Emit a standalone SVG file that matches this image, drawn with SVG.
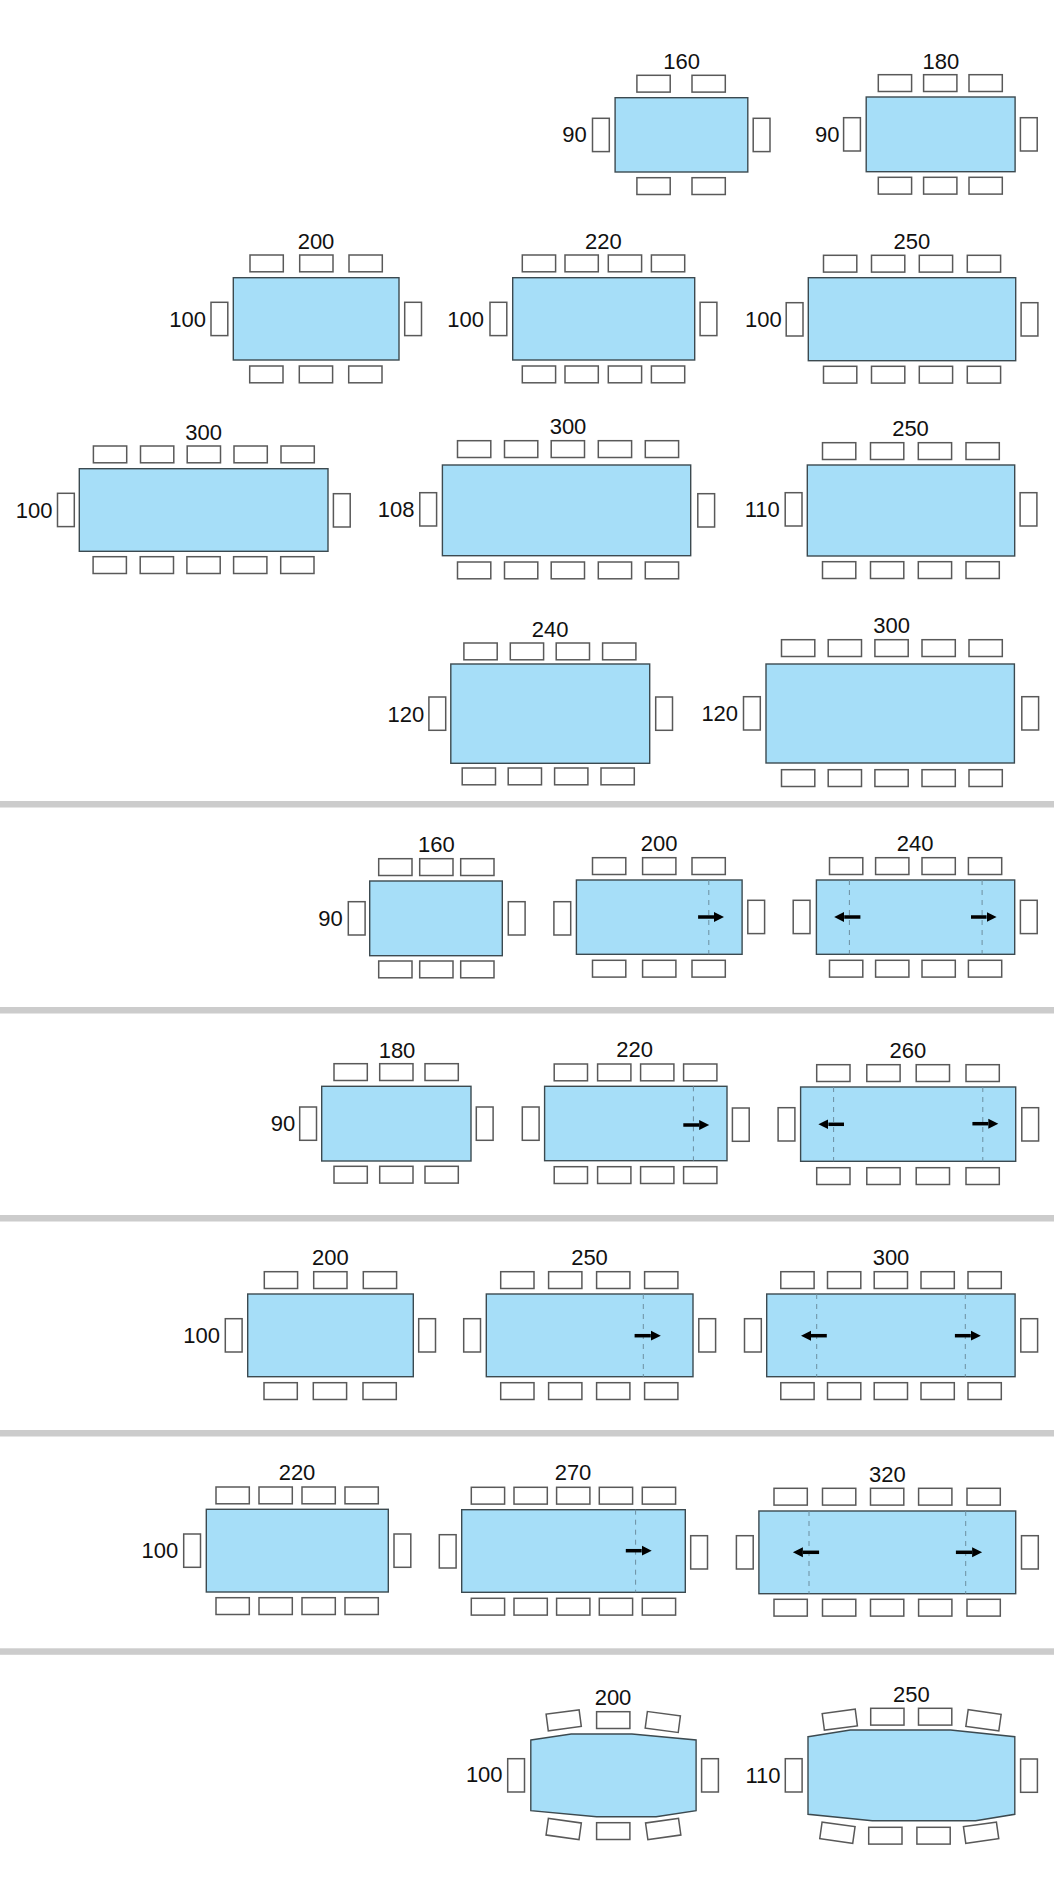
<svg xmlns="http://www.w3.org/2000/svg" width="1054" height="1890" viewBox="0 0 1054 1890">
<style>
.t{fill:#a6def8;stroke:#3c4a50;stroke-width:1.4}
.c{fill:#fff;stroke:#595959;stroke-width:1.5}
.sep{fill:#cccccc}
text{font-family:"Liberation Sans",Arial,sans-serif;font-size:22px;fill:#111}
.m{text-anchor:middle}
.e{text-anchor:end}
.d{stroke:#6d8fa0;stroke-width:1;stroke-dasharray:5 5;fill:none}
.a{stroke:#000;stroke-width:3.5;fill:none;marker-end:url(#head)}
</style>
<defs>
<rect id="h" class="c" width="33.3" height="16.8"/>
<rect id="v" class="c" width="16.8" height="33.3"/>
<marker id="head" markerUnits="userSpaceOnUse" markerWidth="11" markerHeight="11" refX="0" refY="5.5" orient="auto"><path d="M0 0.5L10 5.5L0 10.5Z" fill="#000"/></marker>
</defs>
<rect width="1054" height="1890" fill="#fff"/>
<g id="separators">
<rect class="sep" y="801" width="1054" height="6.5"/>
<rect class="sep" y="1007" width="1054" height="6.5"/>
<rect class="sep" y="1215" width="1054" height="6.5"/>
<rect class="sep" y="1430" width="1054" height="6.5"/>
<rect class="sep" y="1648.3" width="1054" height="6.5"/>
</g>
<g id="table-160-90">
<rect class="t" x="615.1" y="97.7" width="132.7" height="74.3"/>
<use href="#h" x="636.9" y="75.3"/><use href="#h" x="692" y="75.3"/>
<use href="#h" x="636.9" y="177.7"/><use href="#h" x="692" y="177.7"/>
<use href="#v" x="592.5" y="118.3"/><use href="#v" x="753.2" y="118.3"/>
<text class="m" x="681.6" y="68.7">160</text><text class="e" x="586.8" y="141.7">90</text>
</g>
<g id="table-180-90">
<rect class="t" x="866.2" y="97" width="148.9" height="74.7"/>
<use href="#h" x="878.3" y="74.7"/><use href="#h" x="923.6" y="74.7"/><use href="#h" x="969" y="74.7"/>
<use href="#h" x="878.3" y="177.3"/><use href="#h" x="923.6" y="177.3"/><use href="#h" x="969" y="177.3"/>
<use href="#v" x="843.6" y="117.7"/><use href="#v" x="1020.4" y="117.7"/>
<text class="m" x="940.8" y="68.7">180</text><text class="e" x="839.6" y="142.3">90</text>
</g>
<g id="table-200-100">
<rect class="t" x="233.3" y="277.7" width="165.7" height="82.3"/>
<use href="#h" x="250" y="255"/><use href="#h" x="299.7" y="255"/><use href="#h" x="349" y="255"/>
<use href="#h" x="249.7" y="366"/><use href="#h" x="299.3" y="366"/><use href="#h" x="348.7" y="366"/>
<use href="#v" x="211" y="302.3"/><use href="#v" x="404.7" y="302.3"/>
<text class="m" x="316" y="249.3">200</text><text class="e" x="206" y="326.7">100</text>
</g>
<g id="table-220-100">
<rect class="t" x="512.7" y="277.7" width="182" height="82.3"/>
<use href="#h" x="522.3" y="255"/><use href="#h" x="565" y="255"/><use href="#h" x="608.3" y="255"/><use href="#h" x="651.4" y="255"/>
<use href="#h" x="522.3" y="366"/><use href="#h" x="565" y="366"/><use href="#h" x="608.3" y="366"/><use href="#h" x="651.4" y="366"/>
<use href="#v" x="490" y="302.3"/><use href="#v" x="700.1" y="302.3"/>
<text class="m" x="603.3" y="249">220</text><text class="e" x="484" y="326.7">100</text>
</g>
<g id="table-250-100">
<rect class="t" x="808.3" y="277.7" width="207.4" height="83"/>
<use href="#h" x="823.5" y="255.3"/><use href="#h" x="871.5" y="255.3"/><use href="#h" x="919.3" y="255.3"/><use href="#h" x="967.3" y="255.3"/>
<use href="#h" x="823.5" y="366.3"/><use href="#h" x="871.5" y="366.3"/><use href="#h" x="919.3" y="366.3"/><use href="#h" x="967.3" y="366.3"/>
<use href="#v" x="786.2" y="302.7"/><use href="#v" x="1021.1" y="302.7"/>
<text class="m" x="911.9" y="249">250</text><text class="e" x="781.8" y="326.7">100</text>
</g>
<g id="table-300-100">
<rect class="t" x="79.3" y="468.7" width="248.7" height="82.6"/>
<use href="#h" x="93.4" y="446"/><use href="#h" x="140.5" y="446"/><use href="#h" x="187.2" y="446"/><use href="#h" x="234" y="446"/><use href="#h" x="281" y="446"/>
<use href="#h" x="93.1" y="556.7"/><use href="#h" x="140.2" y="556.7"/><use href="#h" x="186.9" y="556.7"/><use href="#h" x="233.6" y="556.7"/><use href="#h" x="280.7" y="556.7"/>
<use href="#v" x="57.5" y="493.3"/><use href="#v" x="333.4" y="493.7"/>
<text class="m" x="203.7" y="440">300</text><text class="e" x="52.4" y="517.7">100</text>
</g>
<g id="table-300-108">
<rect class="t" x="442.4" y="465" width="248.3" height="90.7"/>
<use href="#h" x="457.5" y="440.7"/><use href="#h" x="504.5" y="440.7"/><use href="#h" x="551.2" y="440.7"/><use href="#h" x="598.3" y="440.7"/><use href="#h" x="645.3" y="440.7"/>
<use href="#h" x="457.5" y="562"/><use href="#h" x="504.5" y="562"/><use href="#h" x="551.2" y="562"/><use href="#h" x="598.3" y="562"/><use href="#h" x="645.3" y="562"/>
<use href="#v" x="419.8" y="492.7"/><use href="#v" x="697.8" y="493.7"/>
<text class="m" x="568" y="434">300</text><text class="e" x="414.5" y="516.7">108</text>
</g>
<g id="table-250-110">
<rect class="t" x="807.3" y="465" width="207.4" height="91"/>
<use href="#h" x="822.5" y="442.7"/><use href="#h" x="870.5" y="442.7"/><use href="#h" x="918.3" y="442.7"/><use href="#h" x="966" y="442.7"/>
<use href="#h" x="822.5" y="561.7"/><use href="#h" x="870.5" y="561.7"/><use href="#h" x="918.3" y="561.7"/><use href="#h" x="966" y="561.7"/>
<use href="#v" x="785.2" y="492.7"/><use href="#v" x="1020.1" y="492.7"/>
<text class="m" x="910.5" y="436">250</text><text class="e" x="779.8" y="516.7">110</text>
</g>
<g id="table-240-120">
<rect class="t" x="450.8" y="664" width="198.9" height="99.3"/>
<use href="#h" x="463.9" y="643"/><use href="#h" x="510.3" y="643"/><use href="#h" x="556.2" y="643"/><use href="#h" x="602.6" y="643"/>
<use href="#h" x="462.2" y="768"/><use href="#h" x="508.2" y="768"/><use href="#h" x="554.6" y="768"/><use href="#h" x="601" y="768"/>
<use href="#v" x="428.9" y="697"/><use href="#v" x="655.7" y="697"/>
<text class="m" x="550.2" y="636.7">240</text><text class="e" x="424.2" y="721.7">120</text>
</g>
<g id="table-300-120">
<rect class="t" x="766" y="664" width="248.4" height="99"/>
<use href="#h" x="781.5" y="639.7"/><use href="#h" x="828.2" y="639.7"/><use href="#h" x="874.9" y="639.7"/><use href="#h" x="922" y="639.7"/><use href="#h" x="969" y="639.7"/>
<use href="#h" x="781.5" y="769.7"/><use href="#h" x="828.2" y="769.7"/><use href="#h" x="874.9" y="769.7"/><use href="#h" x="922" y="769.7"/><use href="#h" x="969" y="769.7"/>
<use href="#v" x="743.5" y="696.7"/><use href="#v" x="1021.8" y="696.7"/>
<text class="m" x="891.7" y="632.7">300</text><text class="e" x="738.1" y="721">120</text>
</g>
<g id="table-160-90-ext0">
<rect class="t" x="369.7" y="881" width="132.6" height="74.7"/>
<use href="#h" x="378.7" y="858.7"/><use href="#h" x="419.7" y="858.7"/><use href="#h" x="460.7" y="858.7"/>
<use href="#h" x="378.7" y="961"/><use href="#h" x="419.7" y="961"/><use href="#h" x="460.7" y="961"/>
<use href="#v" x="348.3" y="901.7"/><use href="#v" x="508.3" y="901.7"/>
<text class="m" x="436.3" y="852.3">160</text><text class="e" x="342.7" y="926">90</text>
</g>
<g id="table-160-90-ext1">
<rect class="t" x="576.4" y="880" width="165.7" height="74.3"/>
<use href="#h" x="592.5" y="857.7"/><use href="#h" x="642.6" y="857.7"/><use href="#h" x="692" y="857.7"/>
<use href="#h" x="592.5" y="960.3"/><use href="#h" x="642.6" y="960.3"/><use href="#h" x="692" y="960.3"/>
<use href="#v" x="553.9" y="901.7"/><use href="#v" x="747.8" y="900.3"/>
<text class="m" x="659.1" y="851">200</text>
</g>
<g id="table-160-90-ext2">
<rect class="t" x="816.4" y="880" width="198.3" height="74.3"/>
<use href="#h" x="829.5" y="857.7"/><use href="#h" x="875.6" y="857.7"/><use href="#h" x="922" y="857.7"/><use href="#h" x="968.4" y="857.7"/>
<use href="#h" x="829.5" y="960.3"/><use href="#h" x="875.6" y="960.3"/><use href="#h" x="922" y="960.3"/><use href="#h" x="968.4" y="960.3"/>
<use href="#v" x="793.2" y="900.3"/><use href="#v" x="1020.4" y="900.3"/>
<text class="m" x="915.2" y="851">240</text>
</g>
<g id="table-180-90-ext0">
<rect class="t" x="321.7" y="1086.3" width="149.3" height="74.7"/>
<use href="#h" x="334" y="1063.7"/><use href="#h" x="379.7" y="1063.7"/><use href="#h" x="425" y="1063.7"/>
<use href="#h" x="334" y="1166.3"/><use href="#h" x="379.7" y="1166.3"/><use href="#h" x="425" y="1166.3"/>
<use href="#v" x="299.7" y="1107"/><use href="#v" x="476.3" y="1107"/>
<text class="m" x="397" y="1058">180</text><text class="e" x="295.3" y="1131.3">90</text>
</g>
<g id="table-180-90-ext1">
<rect class="t" x="544.6" y="1086.3" width="182.4" height="74.4"/>
<use href="#h" x="554.2" y="1064"/><use href="#h" x="597.6" y="1064"/><use href="#h" x="640.6" y="1064"/><use href="#h" x="683.6" y="1064"/>
<use href="#h" x="554.2" y="1166.7"/><use href="#h" x="597.6" y="1166.7"/><use href="#h" x="640.6" y="1166.7"/><use href="#h" x="683.6" y="1166.7"/>
<use href="#v" x="522.3" y="1107"/><use href="#v" x="732.4" y="1108"/>
<text class="m" x="634.6" y="1056.7">220</text>
</g>
<g id="table-180-90-ext2">
<rect class="t" x="800.6" y="1087" width="215.1" height="74.3"/>
<use href="#h" x="816.7" y="1064.7"/><use href="#h" x="866.8" y="1064.7"/><use href="#h" x="916.2" y="1064.7"/><use href="#h" x="966" y="1064.7"/>
<use href="#h" x="816.7" y="1167.7"/><use href="#h" x="866.8" y="1167.7"/><use href="#h" x="916.2" y="1167.7"/><use href="#h" x="966" y="1167.7"/>
<use href="#v" x="778.1" y="1107.7"/><use href="#v" x="1021.8" y="1107.7"/>
<text class="m" x="907.8" y="1057.7">260</text>
</g>
<g id="table-200-100-ext0">
<rect class="t" x="247.7" y="1294" width="165.6" height="82.7"/>
<use href="#h" x="264.3" y="1271.7"/><use href="#h" x="313.7" y="1271.7"/><use href="#h" x="363.3" y="1271.7"/>
<use href="#h" x="264" y="1382.7"/><use href="#h" x="313.3" y="1382.7"/><use href="#h" x="363" y="1382.7"/>
<use href="#v" x="225.3" y="1318.7"/><use href="#v" x="418.7" y="1318.7"/>
<text class="m" x="330.3" y="1265">200</text><text class="e" x="220" y="1343.3">100</text>
</g>
<g id="table-200-100-ext1">
<rect class="t" x="486.3" y="1294" width="206.7" height="82.7"/>
<use href="#h" x="500.7" y="1271.7"/><use href="#h" x="548.6" y="1271.7"/><use href="#h" x="596.6" y="1271.7"/><use href="#h" x="644.6" y="1271.7"/>
<use href="#h" x="500.7" y="1382.7"/><use href="#h" x="548.6" y="1382.7"/><use href="#h" x="596.6" y="1382.7"/><use href="#h" x="644.6" y="1382.7"/>
<use href="#v" x="463.7" y="1318.7"/><use href="#v" x="698.8" y="1318.7"/>
<text class="m" x="589.5" y="1265">250</text>
</g>
<g id="table-200-100-ext2">
<rect class="t" x="766.7" y="1294" width="248.4" height="82.7"/>
<use href="#h" x="780.8" y="1271.7"/><use href="#h" x="827.5" y="1271.7"/><use href="#h" x="874.2" y="1271.7"/><use href="#h" x="921" y="1271.7"/><use href="#h" x="968" y="1271.7"/>
<use href="#h" x="780.8" y="1382.7"/><use href="#h" x="827.5" y="1382.7"/><use href="#h" x="874.2" y="1382.7"/><use href="#h" x="921" y="1382.7"/><use href="#h" x="968" y="1382.7"/>
<use href="#v" x="744.5" y="1318.7"/><use href="#v" x="1020.8" y="1318.7"/>
<text class="m" x="891" y="1265">300</text>
</g>
<g id="table-220-100-ext0">
<rect class="t" x="206.3" y="1509.3" width="182" height="82.7"/>
<use href="#h" x="216" y="1487"/><use href="#h" x="259" y="1487"/><use href="#h" x="302" y="1487"/><use href="#h" x="345" y="1487"/>
<use href="#h" x="216" y="1597.7"/><use href="#h" x="259" y="1597.7"/><use href="#h" x="302" y="1597.7"/><use href="#h" x="345" y="1597.7"/>
<use href="#v" x="183.7" y="1534"/><use href="#v" x="394" y="1534"/>
<text class="m" x="297" y="1480.3">220</text><text class="e" x="178.3" y="1558.3">100</text>
</g>
<g id="table-220-100-ext1">
<rect class="t" x="461.7" y="1509.7" width="223.6" height="82.6"/>
<use href="#h" x="471.3" y="1487.3"/><use href="#h" x="514" y="1487.3"/><use href="#h" x="556.6" y="1487.3"/><use href="#h" x="599.3" y="1487.3"/><use href="#h" x="642.3" y="1487.3"/>
<use href="#h" x="471.3" y="1598.3"/><use href="#h" x="514" y="1598.3"/><use href="#h" x="556.6" y="1598.3"/><use href="#h" x="599.3" y="1598.3"/><use href="#h" x="642.3" y="1598.3"/>
<use href="#v" x="439.3" y="1534.7"/><use href="#v" x="690.7" y="1535.7"/>
<text class="m" x="573" y="1480.3">270</text>
</g>
<g id="table-220-100-ext2">
<rect class="t" x="758.9" y="1511" width="256.8" height="82.7"/>
<use href="#h" x="774" y="1488.3"/><use href="#h" x="822.5" y="1488.3"/><use href="#h" x="870.5" y="1488.3"/><use href="#h" x="918.6" y="1488.3"/><use href="#h" x="967" y="1488.3"/>
<use href="#h" x="774" y="1599.3"/><use href="#h" x="822.5" y="1599.3"/><use href="#h" x="870.5" y="1599.3"/><use href="#h" x="918.6" y="1599.3"/><use href="#h" x="967" y="1599.3"/>
<use href="#v" x="736.4" y="1535.7"/><use href="#v" x="1021.5" y="1535.7"/>
<text class="m" x="887.3" y="1482">320</text>
</g>
<g id="table-shaped-200-100">
<polygon class="t" points="530.8,1740 571.2,1734 631.9,1734 696.1,1740 696.1,1810.7 656.1,1816.7 596.6,1816.7 530.8,1810.7"/>
<use href="#h" transform="translate(563.7 1720.3) rotate(-7.5) translate(-16.65 -8.4)"/>
<use href="#h" x="596.6" y="1711.7"/>
<use href="#h" transform="translate(662.8 1722) rotate(7.5) translate(-16.65 -8.4)"/>
<use href="#h" transform="translate(563.7 1829) rotate(8) translate(-16.65 -8.4)"/>
<use href="#h" x="596.6" y="1822.7"/>
<use href="#h" transform="translate(663.2 1829) rotate(-8) translate(-16.65 -8.4)"/>
<use href="#v" x="507.7" y="1758.7"/><use href="#v" x="701.6" y="1758.7"/>
<text class="m" x="613" y="1705.3">200</text><text class="e" x="502.6" y="1782.3">100</text>
</g>
<g id="table-shaped-250-110">
<polygon class="t" points="808,1736.7 850.3,1730 950.6,1730 1014.8,1736.7 1014.8,1814.3 975.6,1820.7 872.3,1820.7 808,1814.3"/>
<use href="#h" transform="translate(839.8 1719.7) rotate(-7.5) translate(-16.65 -8.4)"/>
<use href="#h" x="870.7" y="1708.3"/><use href="#h" x="918.5" y="1708.3"/>
<use href="#h" transform="translate(983.5 1720.3) rotate(8) translate(-16.65 -8.4)"/>
<use href="#h" transform="translate(837.4 1832.7) rotate(8) translate(-16.65 -8.4)"/>
<use href="#h" x="868.7" y="1827.3"/><use href="#h" x="916.9" y="1827.3"/>
<use href="#h" transform="translate(981.1 1832.7) rotate(-8) translate(-16.65 -8.4)"/>
<use href="#v" x="785.3" y="1758.7"/><use href="#v" x="1020.6" y="1759"/>
<text class="m" x="911.4" y="1702.3">250</text><text class="e" x="780.6" y="1782.7">110</text>
</g>
<g id="connectors">
<line class="d" x1="708.8" y1="880" x2="708.8" y2="954.3"/>
<line class="d" x1="849.4" y1="880" x2="849.4" y2="954.3"/>
<line class="d" x1="982.1" y1="880" x2="982.1" y2="954.3"/>
<line class="d" x1="693.4" y1="1086.3" x2="693.4" y2="1160.7"/>
<line class="d" x1="833.6" y1="1087" x2="833.6" y2="1161.3"/>
<line class="d" x1="982.8" y1="1087" x2="982.8" y2="1161.3"/>
<line class="d" x1="643.3" y1="1294" x2="643.3" y2="1376.7"/>
<line class="d" x1="816.7" y1="1294" x2="816.7" y2="1376.7"/>
<line class="d" x1="965.3" y1="1294" x2="965.3" y2="1376.7"/>
<line class="d" x1="635.6" y1="1509.7" x2="635.6" y2="1592.3"/>
<line class="d" x1="809" y1="1511" x2="809" y2="1593.7"/>
<line class="d" x1="965.7" y1="1511" x2="965.7" y2="1593.7"/>
<line class="a" x1="698.1" y1="917" x2="714" y2="917"/>
<line class="a" x1="860.4" y1="917" x2="844.2" y2="917"/>
<line class="a" x1="971" y1="917" x2="986.6" y2="917"/>
<line class="a" x1="683.3" y1="1125" x2="699.2" y2="1125"/>
<line class="a" x1="844" y1="1124.3" x2="828.4" y2="1124.3"/>
<line class="a" x1="972.4" y1="1123.7" x2="988.3" y2="1123.7"/>
<line class="a" x1="634.6" y1="1335.7" x2="650.8" y2="1335.7"/>
<line class="a" x1="826.8" y1="1335.7" x2="811" y2="1335.7"/>
<line class="a" x1="954.9" y1="1335.7" x2="970.8" y2="1335.7"/>
<line class="a" x1="625.8" y1="1550.7" x2="641.7" y2="1550.7"/>
<line class="a" x1="819.1" y1="1552.3" x2="802.9" y2="1552.3"/>
<line class="a" x1="955.9" y1="1552.3" x2="972.1" y2="1552.3"/>
</g>
</svg>
